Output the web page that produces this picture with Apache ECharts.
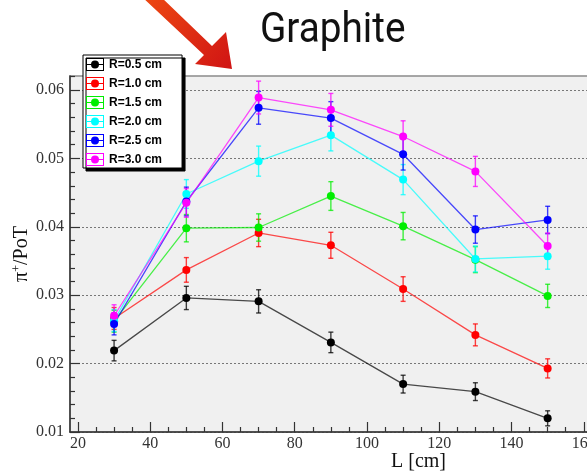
<!DOCTYPE html>
<html>
<head>
<meta charset="utf-8">
<script src="https://cdn.jsdelivr.net/npm/echarts@6/dist/echarts.min.js"></script>
<style>
  html, body { margin: 0; padding: 0; background: #ffffff; }
  #chart { width: 587px; height: 473px; }
</style>
</head>
<body>
<div id="chart"></div>
<script>
// Distance from target, cm
const distances = [30, 50, 70, 90, 110, 130, 150];

// Radius selections shown in the legend
const radiusNames = ['R=0.5 cm', 'R=1.0 cm', 'R=1.5 cm', 'R=2.0 cm', 'R=2.5 cm', 'R=3.0 cm'];

// pi+ yield per proton on target, one array per radius cut
const yieldR05 = [0.0219, 0.0296, 0.0291, 0.0231, 0.0170, 0.0159, 0.0120];
const yieldR10 = [0.0266, 0.0337, 0.0391, 0.0373, 0.0309, 0.0242, 0.0193];
const yieldR15 = [0.0262, 0.0398, 0.0399, 0.0445, 0.0401, 0.0352, 0.0299];
const yieldR20 = [0.0263, 0.0448, 0.0496, 0.0534, 0.0469, 0.0353, 0.0357];
const yieldR25 = [0.0258, 0.0437, 0.0574, 0.0559, 0.0506, 0.0396, 0.0410];
const yieldR30 = [0.0270, 0.0435, 0.0589, 0.0571, 0.0532, 0.0481, 0.0372];

// Statistical uncertainties on each point
const errR05 = [0.0015, 0.0017, 0.0017, 0.0015, 0.0013, 0.0013, 0.0011];
const errR10 = [0.0016, 0.0018, 0.0020, 0.0019, 0.0018, 0.0016, 0.0014];
const errR15 = [0.0016, 0.0020, 0.0020, 0.0021, 0.0020, 0.0019, 0.0017];
const errR20 = [0.0016, 0.0021, 0.0022, 0.0023, 0.0022, 0.0019, 0.0019];
const errR25 = [0.0016, 0.0021, 0.0024, 0.0024, 0.0023, 0.0020, 0.0020];
const errR30 = [0.0016, 0.0021, 0.0024, 0.0024, 0.0023, 0.0022, 0.0019];

// Axis tick labels
const xTickValues = [20, 40, 60, 80, 100, 120, 140, 160];
const yTickValues = [0.01, 0.02, 0.03, 0.04, 0.05, 0.06];

const yields = [yieldR05, yieldR10, yieldR15, yieldR20, yieldR25, yieldR30];
const errors = [errR05, errR10, errR15, errR20, errR25, errR30];
const colors = ['#000000', '#ff0000', '#00ee00', '#00ffff', '#0000ff', '#ff00ff'];

// Minor tick positions between the labelled ticks
const xMinor = [];
for (let v = 25; v < 165; v += 5) if (v % 20 !== 0) xMinor.push(v);
const yMinor = [];
for (let k = 6; k <= 31; k++) if (k % 5 !== 0) yMinor.push(+(k * 0.002).toFixed(3));

const X_MIN = 17.8, X_MAX = 162, Y_MIN = 0.01, Y_MAX = 0.06205;

// Legend marker: coloured frame, horizontal line and a filled dot
const legendIcon = 'path://M0,0H18V13H0ZM1,1V12H17V1ZM1,6H17V7H1Z' +
  'M13,6.5A4,4,0,1,1,5,6.5A4,4,0,1,1,13,6.5Z';

function errorBarItem(params, api) {
  const x = api.value(0), y = api.value(1), e = api.value(2);
  const top = api.coord([x, y + e]);
  const bot = api.coord([x, y - e]);
  const color = api.visual('color');
  const cap = 2.5;
  const st = { stroke: color, lineWidth: 1.4, opacity: 0.75 };
  return {
    type: 'group',
    children: [
      { type: 'line', shape: { x1: top[0], y1: top[1], x2: bot[0], y2: bot[1] }, style: st },
      { type: 'line', shape: { x1: top[0] - cap, y1: top[1], x2: top[0] + cap, y2: top[1] }, style: st },
      { type: 'line', shape: { x1: bot[0] - cap, y1: bot[1], x2: bot[0] + cap, y2: bot[1] }, style: st }
    ]
  };
}

const series = [];
radiusNames.forEach(function (name, g) {
  series.push({
    name: name,
    type: 'custom',
    renderItem: errorBarItem,
    itemStyle: { color: colors[g] },
    encode: { x: 0, y: 1 },
    data: distances.map(function (d, i) { return [d, yields[g][i], errors[g][i]]; }),
    z: 2
  });
  series.push({
    name: name,
    type: 'line',
    symbol: 'circle',
    symbolSize: 8,
    itemStyle: { color: colors[g] },
    lineStyle: { color: colors[g], width: 1.3, opacity: 0.7 },
    emphasis: { disabled: true },
    data: distances.map(function (d, i) { return [d, yields[g][i]]; }),
    z: 3
  });
});

const serif = 'Liberation Serif';
const tickLabelStyle = { fontFamily: serif, fontSize: 16, color: '#333' };

const option = {
  animation: false,
  backgroundColor: '#ffffff',
  textStyle: { fontFamily: serif },
  grid: {
    left: 70, top: 76, right: -4, bottom: 41,
    containLabel: false,
    outerBoundsMode: 'none',
    show: true, backgroundColor: '#f0f0f0', borderColor: '#8a8a8a', borderWidth: 1.5
  },
  legend: {
    orient: 'vertical',
    left: 83, top: 55,
    data: radiusNames,
    icon: legendIcon,
    itemWidth: 18, itemHeight: 13, itemGap: 6,
    padding: [3, 20, 2, 3],
    backgroundColor: '#ffffff',
    borderColor: '#000000', borderWidth: 1,
    shadowColor: '#000000', shadowBlur: 0, shadowOffsetX: 3, shadowOffsetY: 3,
    textStyle: { fontFamily: 'Liberation Sans', fontWeight: 'bold', fontSize: 12, color: '#000' },
    selectedMode: false
  },
  xAxis: [{
    type: 'value', min: X_MIN, max: X_MAX,
    name: 'L [cm]', nameLocation: 'middle', nameGap: 20, nameMoveOverlap: false,
    nameTextStyle: { fontFamily: serif, fontSize: 20, color: '#111', padding: [0, 0, 0, 176] },
    axisLine: { show: true, onZero: false, lineStyle: { color: '#333', width: 1.5 } },
    axisTick: { show: true, inside: true, length: 10, customValues: xTickValues, lineStyle: { color: '#333', width: 1.2 } },
    axisLabel: Object.assign({ customValues: xTickValues, margin: 4 }, tickLabelStyle),
    splitLine: { show: false }
  }, {
    type: 'value', min: X_MIN, max: X_MAX, position: 'bottom',
    axisLine: { show: false },
    axisTick: { show: true, inside: true, length: 5, customValues: xMinor, lineStyle: { color: '#333', width: 1.2 } },
    axisLabel: { show: false },
    splitLine: { show: false }
  }],
  yAxis: [{
    type: 'value', min: Y_MIN, max: Y_MAX, interval: 0.01,
    name: '{a|π}{s|+}{a|/PoT}', nameLocation: 'middle', nameGap: 38, nameRotate: 90, nameMoveOverlap: false,
    nameTextStyle: {
      rich: {
        a: { fontFamily: serif, fontSize: 20, color: '#111' },
        s: { fontFamily: serif, fontSize: 12, color: '#111', padding: [0, 0, 9, 0] }
      }
    },
    axisLine: { show: true, onZero: false, lineStyle: { color: '#333', width: 1.5 } },
    axisTick: { show: true, inside: true, length: 10, customValues: yTickValues, lineStyle: { color: '#333', width: 1.2 } },
    axisLabel: Object.assign({ customValues: yTickValues, margin: 6 }, tickLabelStyle),
    splitLine: { show: true, lineStyle: { color: '#777', type: [2, 2], width: 1 } }
  }, {
    type: 'value', min: Y_MIN, max: Y_MAX, position: 'left',
    axisLine: { show: false },
    axisTick: { show: true, inside: true, length: 5, customValues: yMinor, lineStyle: { color: '#333', width: 1.2 } },
    axisLabel: { show: false },
    splitLine: { show: false }
  }],
  graphic: [{
    type: 'text',
    left: 260, top: 10,
    scaleX: 0.9,
    style: { text: 'Graphite', fontFamily: 'Roboto', fontSize: 43, fill: '#111' }
  }, {
    type: 'polygon',
    shape: { points: [[141, -4], [160, -4], [212, 46], [226, 32], [232, 69], [195, 64], [204, 55]] },
    style: {
      fill: {
        type: 'linear', x: 0, y: 0, x2: 1, y2: 1,
        colorStops: [{ offset: 0, color: '#ee4a12' }, { offset: 1, color: '#d01414' }]
      }
    },
    z: 10
  }],
  series: series
};

const chart = echarts.init(document.getElementById('chart'), null, { renderer: 'canvas' });
chart.setOption(option);
</script>
</body>
</html>
